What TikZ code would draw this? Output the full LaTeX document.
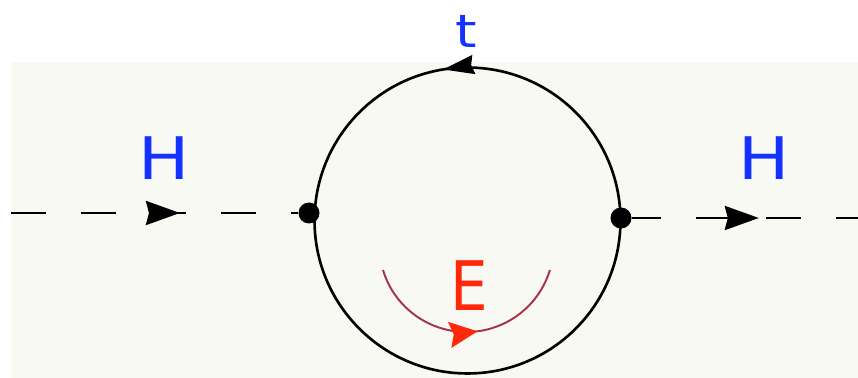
\documentclass[tikz,border=0pt]{standalone}
\usepackage{fontspec}
\setmainfont{DejaVu Sans}
\usetikzlibrary{arrows.meta,decorations.markings}
\definecolor{bg}{RGB}{249,249,243}
\definecolor{hblue}{RGB}{20,50,255}
\definecolor{ered}{RGB}{255,40,10}
\definecolor{arcred}{RGB}{165,50,70}
\tikzset{
  blackhead/.tip={Stealth[length=0.68cm,width=0.48cm,inset=0.06cm]},
  loophead/.tip={Stealth[length=0.62cm,width=0.38cm,inset=0.05cm]},
  redhead/.tip={Stealth[length=0.56cm,width=0.52cm,inset=0.08cm]}
}
\begin{document}
\begin{tikzpicture}[x=0.02cm,y=0.02cm,
  vtx/.style={circle,fill=black,inner sep=0pt,minimum size=0.42cm},
  prop/.style={line width=1.6pt,dash pattern=on 0.7cm off 0.7cm},
  lbl/.style={text=hblue,font=\fontsize{33.4}{36}\selectfont,anchor=base,inner sep=0pt}
]
\useasboundingbox (0,0) rectangle (858,378);
\fill[bg] (11,0) rectangle (858,316);
\coordinate (c) at (467.5,157.5);
\coordinate (Lend) at (11,165);
\coordinate (Rend) at (858,160);
\coordinate (Es) at (383,108);
% fermion loop
\draw[line width=1.5pt, postaction={decorate},
  decoration={markings, mark=at position 0.2756 with {\arrow{loophead}}}]
  (c) circle[radius=3.06cm];
\node[vtx] (L) at (309,165) {};
\node[vtx] (R) at (621,160) {};
% Higgs lines
\draw[prop, postaction={decorate},
  decoration={markings, mark=at position 3.38cm with {\arrow{blackhead}}}]
  (Lend) -- (L);
\draw[prop, dash phase=0.12cm, postaction={decorate},
  decoration={markings, mark=at position 2.54cm with {\arrow{blackhead}}}]
  (R) -- (Rend);
% energy arc
\draw[arcred, line width=1.1pt, postaction={decorate},
  decoration={markings, mark=at position 0.55 with {\arrow[ered]{redhead}}}]
  (Es) arc[start angle=196.8,end angle=343.2,radius=1.744cm];
% labels
\node[lbl, xscale=1.16] (H1) at (164,198) {H};
\node[lbl, xscale=1.16] (H2) at (764,198) {H};
\node[lbl, font=\fontsize{26}{28}\selectfont, xscale=1.2] (t) at (466,330) {t};
\node[lbl, text=ered, font=\fontsize{38.9}{40}\selectfont, xscale=0.87] (E) at (469,67) {E};
\end{tikzpicture}
\end{document}
